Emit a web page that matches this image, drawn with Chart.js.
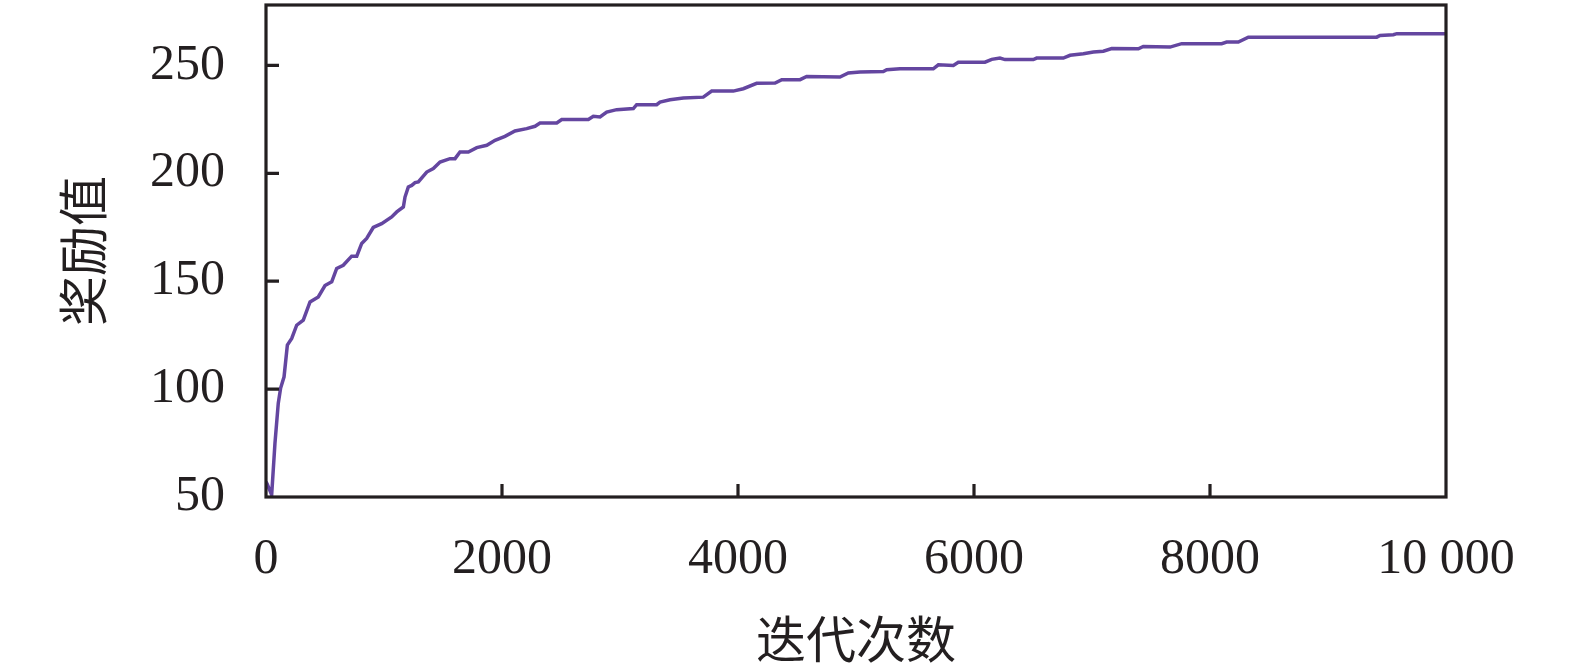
<!DOCTYPE html>
<html>
<head>
<meta charset="utf-8">
<script src="https://cdn.jsdelivr.net/npm/chart.js@4/dist/chart.umd.min.js"></script>
<style>
html,body{margin:0;padding:0;background:#fff;}
#wrap{width:1575px;height:669px;}
</style>
</head>
<body>
<div id="wrap"><canvas id="c" width="1575" height="669"></canvas></div>
<script>
const iterations = [0, 10, 48, 76, 104, 124, 153, 181, 218, 260, 316, 373, 443, 500, 557, 599, 655, 726, 769, 811, 853, 909, 980, 1065, 1108, 1164, 1178, 1206, 1235, 1263, 1291, 1362, 1418, 1475, 1559, 1602, 1644, 1715, 1786, 1871, 1941, 2025, 2110, 2209, 2280, 2322, 2464, 2506, 2732, 2774, 2831, 2887, 2972, 3113, 3141, 3311, 3339, 3424, 3537, 3706, 3777, 3960, 4045, 4158, 4314, 4371, 4526, 4582, 4864, 4935, 5034, 5232, 5260, 5373, 5655, 5698, 5825, 5867, 6093, 6150, 6220, 6263, 6503, 6531, 6757, 6814, 6927, 7012, 7096, 7167, 7393, 7435, 7661, 7760, 8099, 8141, 8240, 8325, 9413, 9441, 9554, 9583, 10000];
const rewards = [57, 56, 51, 75, 93.5, 100.5, 105.7, 120.4, 123.5, 129.6, 132, 140.4, 142.7, 148, 149.7, 155.9, 157.4, 161.6, 161.6, 167.5, 169.8, 174.9, 176.7, 179.8, 182.1, 184.4, 189, 193.7, 194.4, 195.7, 196, 200.6, 202.2, 205.2, 206.8, 206.8, 209.9, 209.9, 211.9, 213, 215.3, 217.1, 219.6, 220.7, 221.8, 223.3, 223.3, 224.9, 224.9, 226.4, 226.1, 228.4, 229.5, 230, 231.8, 231.8, 233, 234.1, 234.9, 235.3, 238.1, 238.1, 239.2, 241.7, 241.8, 243.4, 243.4, 244.9, 244.6, 246.5, 246.9, 247.2, 248, 248.4, 248.4, 250.3, 250, 251.5, 251.5, 252.8, 253.4, 252.7, 252.7, 253.4, 253.4, 254.7, 255.4, 256.2, 256.6, 257.8, 257.7, 258.8, 258.5, 260.1, 260.1, 260.8, 260.8, 263.1, 263.1, 263.9, 264.2, 264.7, 264.7];
const xTicks = [0, 2000, 4000, 6000, 8000, 10000];
const xTickLabels = ['0', '2000', '4000', '6000', '8000', '10 000'];
const yTicks = [50, 100, 150, 200, 250];
const xTitle = '迭代次数';
const yTitle = '奖励值';

const points = iterations.map((x, i) => ({x: x, y: rewards[i]}));

const frameColor = '#231f20';
const framePlugin = {
  id: 'framePlugin',
  afterDraw(chart) {
    const ctx = chart.ctx;
    const a = chart.chartArea;
    const xs = chart.scales.x, ys = chart.scales.y;
    ctx.save();
    ctx.strokeStyle = frameColor;
    ctx.lineWidth = 3.2;
    ctx.lineCap = 'butt';
    ctx.beginPath();
    xTicks.forEach(v => {
      if (v === 0 || v === 10000) return;
      const px = xs.getPixelForValue(v);
      ctx.moveTo(px, a.bottom);
      ctx.lineTo(px, a.bottom - 13);
    });
    yTicks.forEach(v => {
      if (v === 50) return;
      const py = ys.getPixelForValue(v);
      ctx.moveTo(a.left, py);
      ctx.lineTo(a.left + 13, py);
    });
    ctx.stroke();
    ctx.strokeRect(a.left, a.top, a.right - a.left, a.bottom - a.top);
    ctx.restore();
  }
};

new Chart(document.getElementById('c'), {
  type: 'line',
  data: {
    datasets: [{
      data: points,
      borderColor: '#6446a0',
      borderWidth: 3.5,
      pointRadius: 0,
      tension: 0,
      fill: false
    }]
  },
  options: {
    responsive: false,
    devicePixelRatio: 1,
    animation: false,
    layout: {padding: {top: 5, right: 129, left: 0, bottom: 0}},
    plugins: {legend: {display: false}, tooltip: {enabled: false}},
    scales: {
      x: {
        type: 'linear',
        min: 0, max: 10000,
        grid: {display: false},
        border: {display: false},
        afterBuildTicks(scale) { scale.ticks = xTicks.map(v => ({value: v})); },
        afterFit(scale) { scale.height = 172; scale.paddingLeft = 0; scale.paddingRight = 0; scale.paddingTop = 0; scale.paddingBottom = 0; },
        ticks: {
          autoSkip: false,
          maxRotation: 0,
          padding: 25,
          color: '#231f20',
          font: {family: '"Liberation Serif", "Times New Roman", serif', size: 50},
          callback: (v) => xTickLabels[xTicks.indexOf(v)]
        },
        title: {
          display: true,
          text: xTitle,
          color: '#231f20',
          padding: {top: 0, bottom: 0},
          font: {family: '"Noto Sans CJK SC", sans-serif', size: 50, weight: 'normal'}
        }
      },
      y: {
        type: 'linear',
        min: 50, max: 278,
        grid: {display: false},
        border: {display: false},
        afterBuildTicks(scale) { scale.ticks = yTicks.map(v => ({value: v})); },
        afterFit(scale) { scale.width = 266; scale.paddingLeft = 0; scale.paddingRight = 0; scale.paddingTop = 0; scale.paddingBottom = 0; },
        ticks: {
          padding: 33,
          color: '#231f20',
          font: {family: '"Liberation Serif", "Times New Roman", serif', size: 50}
        },
        title: {
          display: true,
          text: yTitle,
          color: '#231f20',
          padding: {top: 53, bottom: 0},
          font: {family: '"Noto Sans CJK SC", sans-serif', size: 50, weight: 'normal'}
        }
      }
    }
  },
  plugins: [framePlugin]
});
</script>
</body>
</html>
